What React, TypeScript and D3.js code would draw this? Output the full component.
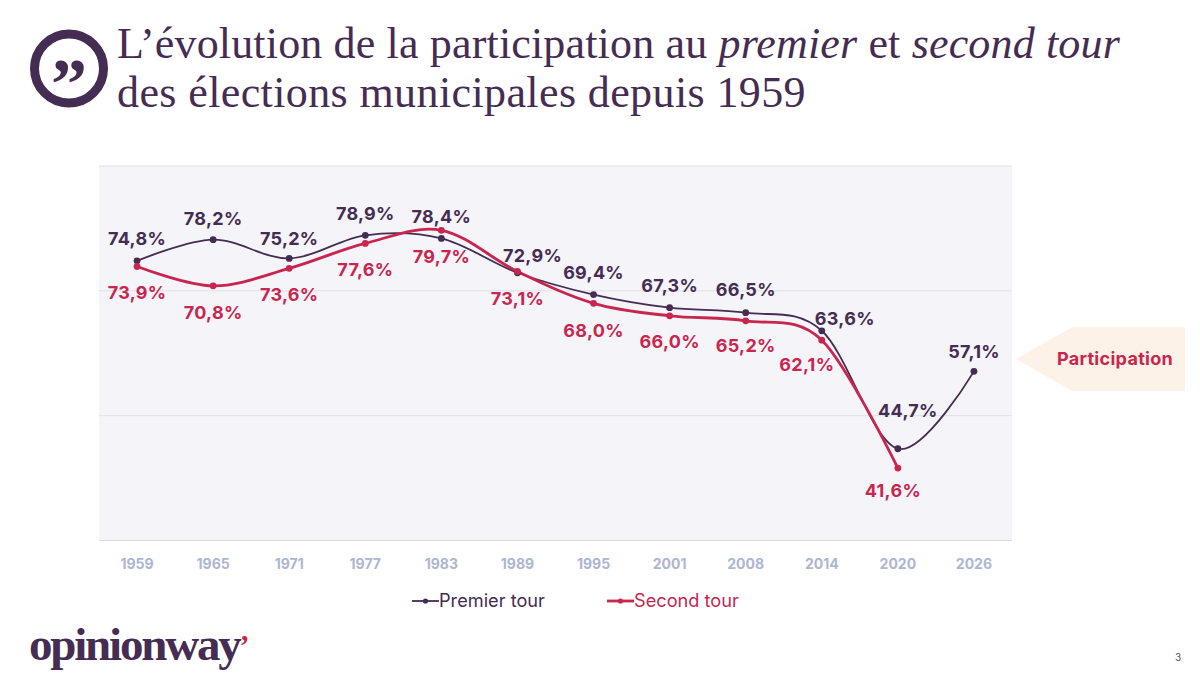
import React from "react";
import * as d3 from "d3";

const years = ["1959","1965","1971","1977","1983","1989","1995","2001","2008","2014","2020","2026"];
const premierTour = [74.8,78.2,75.2,78.9,78.4,72.9,69.4,67.3,66.5,63.6,44.7,57.1];
const secondTour: (number|null)[] = [73.9,70.8,73.6,77.6,79.7,73.1,68.0,66.0,65.2,62.1,41.6,null];
const gridValues = [30,50,70,90];
const premierOffsets: [number,number][] = [[0,-22],[0,-21],[0,-20],[0,-22],[0,-22],[15,-17],[0,-22],[0,-22],[0,-23],[23,-12],[10,-38],[0,-20]];
const secondOffsets: [number,number][] = [[0,26],[0,27],[0,26],[0,26],[0,26],[0,27],[0,27],[0,26],[0,25],[-15,24],[-5,22],[0,0]];

const PURPLE = "#452c52";
const RED = "#c8264f";
const LABEL_FONT = "Inter, 'Open Sans', sans-serif";
const SERIF = "'Liberation Serif', serif";

export default function App() {
  const x = d3.scaleBand<string>().domain(years).range([99,1012]);
  const y = d3.scaleLinear().domain([30,90]).range([540.5,166]);
  const cx = (i: number) => x(years[i])! + x.bandwidth()/2;
  const line = d3.line<number|null>()
    .defined(d => d !== null)
    .x((_, i) => cx(i))
    .y(d => y(d as number))
    .curve(d3.curveCardinal.tension(0));
  const fmt = (v: number) => v.toFixed(1).replace(".", ",") + "%";
  return (
    <svg width={1200} height={675} style={{position:"fixed",left:0,top:0,background:"#fff"}}>
      <circle cx={69} cy={68.5} r={34.5} fill="none" stroke={PURPLE} strokeWidth={9} />
      <text x={69} y={108} textAnchor="middle" fontFamily={SERIF} fontWeight={700} fontSize={72} fill={PURPLE}>”</text>
      <text x={117} y={58} fontFamily={SERIF} fontSize={44} letterSpacing={0.16} fill={PURPLE}>
        L’évolution de la participation au <tspan fontStyle="italic">premier</tspan> et <tspan fontStyle="italic">second tour</tspan>
      </text>
      <text x={117} y={107} fontFamily={SERIF} fontSize={44} letterSpacing={0.39} fill={PURPLE}>des élections municipales depuis 1959</text>

      <rect x={99} y={166} width={913} height={374.5} fill="#f4f4f9" />
      {gridValues.map(v => (
        <line key={v} x1={99} x2={1012} y1={y(v)} y2={y(v)} stroke={v===30?"#d9d9de":"#e2e2e6"} strokeWidth={1} />
      ))}
      {years.map((yr,i) => (
        <text key={yr} x={cx(i)} y={569} textAnchor="middle" fontFamily={LABEL_FONT} fontWeight={700} fontSize={14} fill="#adb6d2">{yr}</text>
      ))}

      <path d={line(premierTour)!} fill="none" stroke={PURPLE} strokeWidth={1.8} />
      <path d={line(secondTour)!} fill="none" stroke={RED} strokeWidth={2.8} />
      {premierTour.map((v,i) => <circle key={i} cx={cx(i)} cy={y(v)} r={3.4} fill={PURPLE} />)}
      {secondTour.map((v,i) => v===null ? null : <circle key={i} cx={cx(i)} cy={y(v)} r={3.4} fill={RED} />)}
      {premierTour.map((v,i) => (
        <text key={i} x={cx(i)+premierOffsets[i][0]} y={y(v)+premierOffsets[i][1]} dy="0.36em" textAnchor="middle" fontFamily={LABEL_FONT} fontWeight={700} fontSize={18} letterSpacing={0.3} fill={PURPLE}>{fmt(v)}</text>
      ))}
      {secondTour.map((v,i) => v===null ? null : (
        <text key={i} x={cx(i)+secondOffsets[i][0]} y={y(v)+secondOffsets[i][1]} dy="0.36em" textAnchor="middle" fontFamily={LABEL_FONT} fontWeight={700} fontSize={18} letterSpacing={0.3} fill={RED}>{fmt(v)}</text>
      ))}

      <polygon points="1016,359 1072,327 1185,327 1185,391 1072,391" fill="#fdf2e7" />
      <text x={1115} y={364.5} textAnchor="middle" fontFamily={LABEL_FONT} fontWeight={700} fontSize={18} letterSpacing={0.3} fill={RED}>Participation</text>

      <line x1={412} x2={439} y1={601} y2={601} stroke={PURPLE} strokeWidth={1.8} />
      <circle cx={425.5} cy={601} r={2.6} fill={PURPLE} />
      <text x={439} y={606.5} fontFamily={LABEL_FONT} fontSize={18.2} fill={PURPLE}>Premier tour</text>
      <line x1={607} x2={634} y1={601} y2={601} stroke={RED} strokeWidth={2.8} />
      <circle cx={620.5} cy={601} r={2.6} fill={RED} />
      <text x={634} y={606.5} fontFamily={LABEL_FONT} fontSize={18.2} fill={RED}>Second tour</text>

      <text x={29} y={660} fontFamily={SERIF} fontWeight={700} fontSize={47} letterSpacing={-2.2} fill={PURPLE}>opinionway<tspan fill={RED} fontSize={30} dx={0} dy={-5}>’</tspan></text>
      <text x={1178} y={661} textAnchor="middle" fontFamily={LABEL_FONT} fontSize={10} fill="#555">3</text>
    </svg>
  );
}
